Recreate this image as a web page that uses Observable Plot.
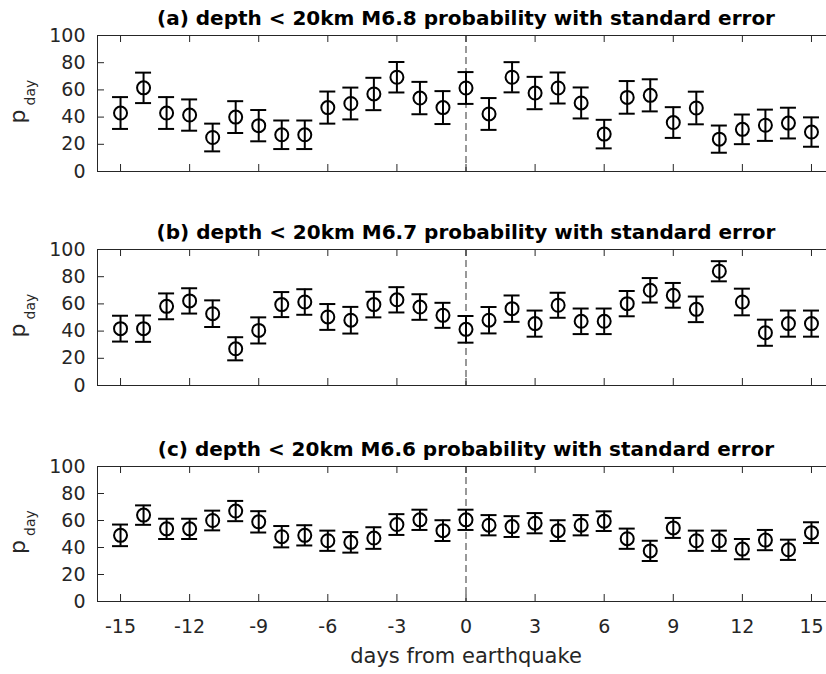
<!DOCTYPE html>
<html>
<head>
<meta charset="utf-8">
<script src="https://cdn.jsdelivr.net/npm/d3@7"></script>
<script src="https://cdn.jsdelivr.net/npm/@observablehq/plot@0.6"></script>
<style>
  html, body { margin: 0; padding: 0; background: white; }
  #fig { position: relative; width: 826px; height: 674px; overflow: hidden; background: white; }
  .panel { position: absolute; left: 0; }
  .panel svg { overflow: hidden; }
</style>
</head>
<body>
<div id="fig"></div>
<script>
// ---- data ----
const days = [-15,-14,-13,-12,-11,-10,-9,-8,-7,-6,-5,-4,-3,-2,-1,0,1,2,3,4,5,6,7,8,9,10,11,12,13,14,15];
const xTicks = [-15,-12,-9,-6,-3,0,3,6,9,12,15];
const yTicks = [0,20,40,60,80,100];

const titleA = "(a) depth < 20km M6.8 probability with standard error";
const titleB = "(b) depth < 20km M6.7 probability with standard error";
const titleC = "(c) depth < 20km M6.6 probability with standard error";

const pA  = [43,61.5,43,41.5,25,40,33.7,27,27,47,50,57,69.3,54,47,61.4,42.3,69.3,57.7,61.4,50.4,27.5,54.5,56,36,46.7,23.8,31,34,35.6,29];
const seA = [11.7,11.2,11.7,11.5,10.2,11.7,11.5,10.5,10.5,11.8,11.7,11.9,11.2,11.9,12.1,11.7,11.7,11.1,11.9,11.4,11.4,10.5,12,11.8,11.3,12,10,10.9,11.5,11.3,10.8];

const pB  = [41.8,41.8,58.2,62.2,52.8,27,40.5,59.5,61.4,50.4,48,59.5,63,57.7,51.6,41.3,48,56.5,45.5,59,47.2,47.2,60.2,70,66.3,56,84,61.4,38.8,45.5,45.5];
const seB = [9.5,9.7,9.5,9.3,9.8,8.5,9.6,9.2,9.4,9.5,9.8,9.4,9.3,9.4,9.2,9.8,9.7,9.7,9.6,9.2,9.4,9.4,9.3,9,9.1,9.4,7.4,9.8,9.6,9.6,9.6];

const pC  = [49,64,53.8,53.8,60,67,59,48,49,45,43.8,47,57,60.5,52.5,60.5,56.5,55.5,58,52.5,56.5,59.5,46.5,37.5,54.5,45,45,38.8,45.5,38.3,51];
const seC = [8,7.2,7.5,7.5,7.3,7.5,7.9,7.9,7.5,7.5,7.6,8,7.7,7.5,7.7,7.5,7.5,7.7,7.5,7.7,7.5,7.3,7.5,7.5,7.4,7.5,7.5,7.5,7.5,7.5,7.7];

const xLabel = "days from earthquake";
const yLabelMain = "p";
const yLabelSub = "day";

// ---- drawing ----
const W = 826, ML = 97, MT = 35;
const axisColor = "#262626";
const font = "DejaVu Sans";

function panel({title, values, errors, top, frameH, marginBottom, showX}) {
  const data = days.map((d, i) => ({day: d, p: values[i], se: errors[i]}));
  const height = MT + frameH + marginBottom;
  const marks = [
    // dashed zero line
    Plot.ruleX([0], {stroke: "#555555", strokeWidth: 1.2, strokeDasharray: "7,4"}),
    // box lines (top, bottom, left)
    Plot.ruleY([0, 100], {stroke: axisColor, strokeWidth: 1}),
    Plot.ruleX([-16], {stroke: axisColor, strokeWidth: 1}),
    // inward ticks
    Plot.ruleX(xTicks, {stroke: axisColor, insetTop: frameH - 7}),
    Plot.ruleX(xTicks, {stroke: axisColor, insetBottom: frameH - 7}),
    Plot.ruleY(yTicks, {stroke: axisColor, insetRight: (W - ML) - 7}),
    // error bars
    Plot.ruleX(data, {x: "day", y1: d => d.p - d.se, y2: d => d.p + d.se, stroke: "black", strokeWidth: 2}),
    Plot.ruleY(data, {x1: "day", x2: "day", y: d => d.p - d.se, insetLeft: -8, insetRight: -8, stroke: "black", strokeWidth: 2}),
    Plot.ruleY(data, {x1: "day", x2: "day", y: d => d.p + d.se, insetLeft: -8, insetRight: -8, stroke: "black", strokeWidth: 2}),
    Plot.dot(data, {x: "day", y: "p", r: 6.5, stroke: "black", strokeWidth: 2, fill: "none"}),
    // title
    Plot.text([{x: 0, t: title}], {x: "x", text: "t", frameAnchor: "top", dy: -11, lineAnchor: "bottom",
      fontWeight: "bold", fontSize: 20, fill: "black"}),
    // y label p_day
    Plot.text([yLabelMain], {frameAnchor: "left", rotate: -90, dx: -80, dy: 13, lineAnchor: "middle",
      textAnchor: "middle", fontSize: 22, fill: axisColor}),
    Plot.text([yLabelSub], {frameAnchor: "left", rotate: -90, dx: -67, dy: -11, lineAnchor: "middle",
      textAnchor: "middle", fontSize: 14, fill: axisColor})
  ];
  if (showX) {
    marks.push(Plot.text([{x: 0, t: xLabel}], {x: "x", text: "t", frameAnchor: "bottom", dy: 61,
      lineAnchor: "bottom", fontSize: 21, fill: axisColor}));
  }
  const svg = Plot.plot({
    width: W, height,
    marginTop: MT, marginBottom, marginLeft: ML, marginRight: 0,
    x: {domain: [-16, 16], range: [ML, 834], ticks: xTicks, tickSize: 0, tickPadding: 18,
        label: null, axis: showX ? "bottom" : null, tickFormat: d => String(d)},
    y: {domain: [0, 100], ticks: yTicks, tickSize: 0, tickPadding: 12, label: null,
        tickFormat: d => String(d)},
    style: {fontFamily: font, fontSize: "19px", color: axisColor, background: "white", overflow: "hidden"},
    marks
  });
  const div = document.createElement("div");
  div.className = "panel";
  div.style.top = top + "px";
  div.appendChild(svg);
  document.getElementById("fig").appendChild(div);
}

panel({title: titleA, values: pA, errors: seA, top: 0,   frameH: 136, marginBottom: 22, showX: false});
panel({title: titleB, values: pB, errors: seB, top: 214, frameH: 136, marginBottom: 22, showX: false});
panel({title: titleC, values: pC, errors: seC, top: 431, frameH: 135, marginBottom: 73, showX: true});
</script>
</body>
</html>
